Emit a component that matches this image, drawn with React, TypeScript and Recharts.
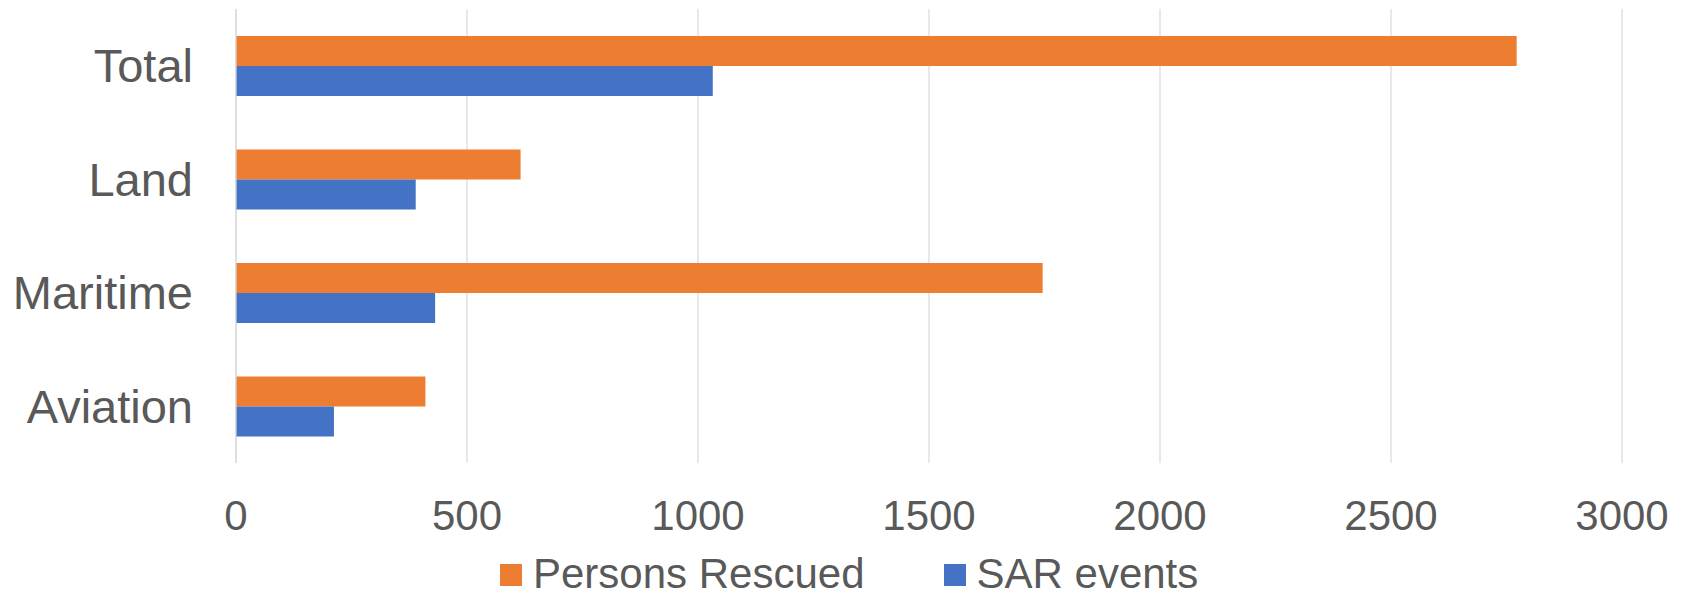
import { BarChart, Bar, XAxis, YAxis, CartesianGrid, Legend } from "recharts";

const categories = ["Total", "Land", "Maritime", "Aviation"];
const personsRescued = [2772, 616, 1746, 410];
const sarEvents = [1032, 389, 431, 212];
const xTicks = [0, 500, 1000, 1500, 2000, 2500, 3000];

const data = categories.map((name, i) => ({
  name,
  persons: personsRescued[i],
  sar: sarEvents[i],
}));

const FONT = '"Liberation Sans", Arial, sans-serif';
const TEXT = "#595959";

function LegendBox() {
  const items = [
    { label: "Persons Rescued", color: "#ED7D31" },
    { label: "SAR events", color: "#4472C4" },
  ];
  return (
    <div
      style={{
        display: "flex",
        alignItems: "flex-start",
        paddingLeft: 500,
        height: 36,
        fontFamily: FONT,
        fontSize: 42,
        lineHeight: "36px",
        color: TEXT,
      }}
    >
      {items.map((it, i) => (
        <div
          key={it.label}
          style={{ display: "flex", alignItems: "flex-start", marginRight: i === 0 ? 79 : 0 }}
        >
          <span
            style={{
              display: "inline-block",
              width: 22,
              height: 22,
              background: it.color,
              marginRight: 11,
              marginTop: 8,
            }}
          />
          <span>{it.label}</span>
        </div>
      ))}
    </div>
  );
}

export default function App() {
  return (
    <div style={{ position: "absolute", left: 0, top: 0, background: "#fff" }}>
      <BarChart
        width={1685}
        height={598}
        data={data}
        layout="vertical"
        margin={{ top: 9, right: 63, left: 0, bottom: 6 }}
        barGap={0}
      >
        <CartesianGrid horizontal={false} stroke="#D9D9D9" strokeWidth={1.2} />
        <XAxis
          type="number"
          domain={[0, 3000]}
          ticks={xTicks}
          axisLine={false}
          tickLine={false}
          tickSize={0}
          tickMargin={37}
          height={93}
          interval={0}
          tick={{ fill: TEXT, fontSize: 42, fontFamily: FONT }}
        />
        <YAxis
          type="category"
          dataKey="name"
          width={236}
          axisLine={{ stroke: "#D9D9D9", strokeWidth: 1.2 }}
          tickLine={false}
          tickSize={0}
          tickMargin={43}
          interval={0}
          tick={{ fill: TEXT, fontSize: 47, fontFamily: FONT }}
        />
        <Legend
          verticalAlign="bottom"
          wrapperStyle={{ left: 0, width: 1685 }}
          content={() => <LegendBox />}
        />
        <Bar dataKey="persons" name="Persons Rescued" fill="#ED7D31" barSize={30} isAnimationActive={false} />
        <Bar dataKey="sar" name="SAR events" fill="#4472C4" barSize={30} isAnimationActive={false} />
      </BarChart>
    </div>
  );
}
